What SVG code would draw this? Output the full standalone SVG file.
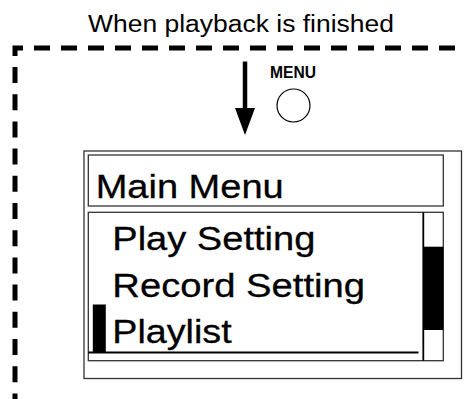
<svg xmlns="http://www.w3.org/2000/svg" width="466" height="399" viewBox="0 0 466 399">
<style>
.t{font-family:"Liberation Sans",Arial,Helvetica,sans-serif;fill:#000}
.big{font-size:34px;stroke:#000;stroke-width:0.3}
.box{fill:none;stroke:#333;stroke-width:1.3}
.dash{fill:none;stroke:#000;stroke-width:5}
</style>
<rect width="466" height="399" fill="#fff"/>
<g id="caption">
<text class="t" x="88" y="32.3" font-size="23" textLength="306" lengthAdjust="spacingAndGlyphs">When playback is finished</text>
</g>
<g id="connectors">
<path class="dash" d="M15,56 V48 H23"/>
<path class="dash" d="M34,48 H466" stroke-dasharray="16 11"/>
<path class="dash" d="M15,67 V400" stroke-dasharray="16 11.2"/>
<path d="M245,61.5 V109" stroke="#000" stroke-width="4.5"/>
<path d="M235,108 L255,108 L245,135 Z" fill="#000"/>
</g>
<g id="menu-button">
<text class="t" x="270" y="77.5" font-size="16.5" font-weight="bold" textLength="46" lengthAdjust="spacingAndGlyphs">MENU</text>
<circle cx="293.5" cy="105.5" r="16.5" fill="none" stroke="#000" stroke-width="1.2"/>
</g>
<g id="screen">
<rect class="box" x="84" y="151" width="377.5" height="227.5"/>
<g id="title">
<rect class="box" x="88.3" y="155" width="355" height="51"/>
<text class="t big" x="95.7" y="197.7" textLength="188" lengthAdjust="spacingAndGlyphs">Main Menu</text>
</g>
<g id="list">
<rect class="box" x="88.3" y="212.3" width="355" height="148.4"/>
<line x1="423.3" y1="212.3" x2="423.3" y2="360.7" stroke="#000" stroke-width="1.8"/>
<rect x="423.3" y="246.7" width="20" height="83.3" fill="#000"/>
<text class="t big" x="112.3" y="250" textLength="203" lengthAdjust="spacingAndGlyphs">Play Setting</text>
<text class="t big" x="112.3" y="297.3" textLength="252.7" lengthAdjust="spacingAndGlyphs">Record Setting</text>
<text class="t big" x="112.3" y="343.3" textLength="119.4" lengthAdjust="spacingAndGlyphs">Playlist</text>
<rect x="92.8" y="304.5" width="13" height="48" fill="#000"/>
<line x1="88.3" y1="352.5" x2="418.5" y2="352.5" stroke="#000" stroke-width="2"/>
</g>
</g>
</svg>
